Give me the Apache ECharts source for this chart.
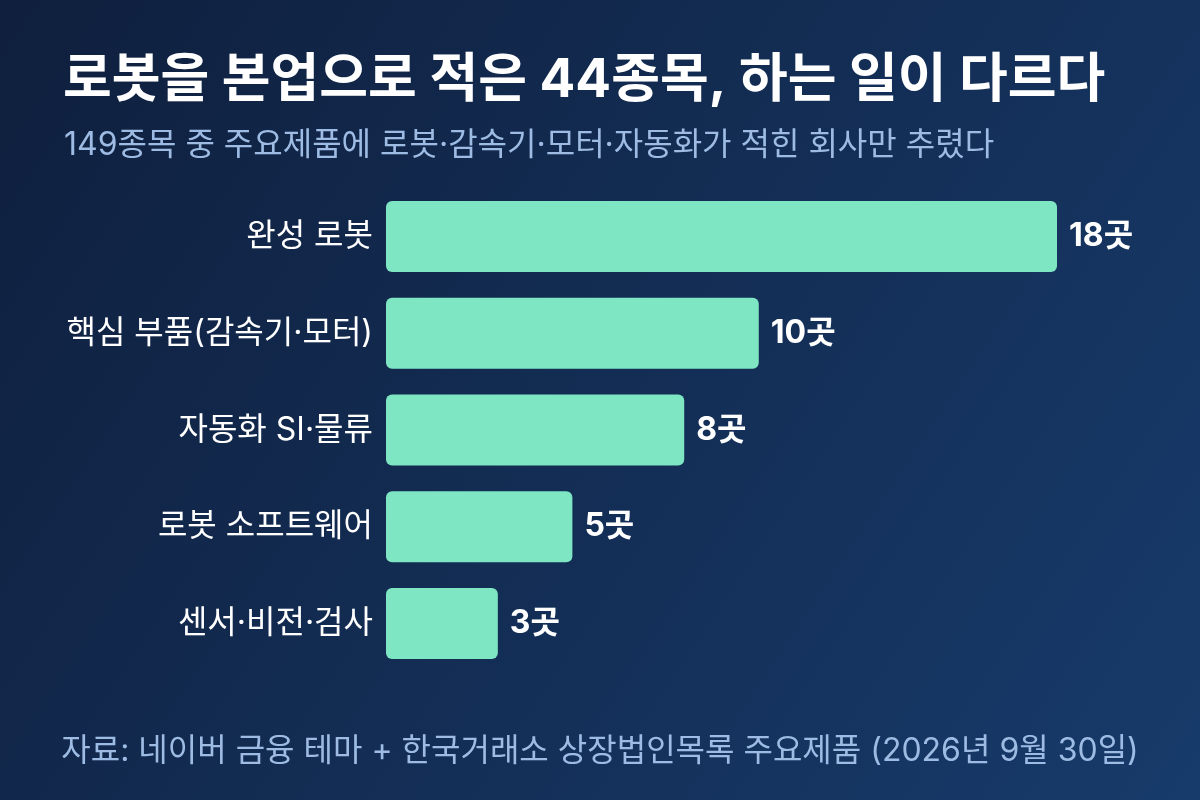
<!DOCTYPE html>
<html><head><meta charset="utf-8">
<script src="https://cdn.jsdelivr.net/npm/echarts@6/dist/echarts.min.js"></script>
<style>html,body{margin:0;padding:0;}#c{width:1200px;height:800px;}</style>
</head><body><div id="c"></div>
<script>
const categories = ['완성 로봇', '핵심 부품(감속기·모터)', '자동화 SI·물류', '로봇 소프트웨어', '센서·비전·검사'];
const counts = [18, 10, 8, 5, 3];
const unit = '곳';
const titleText = '로봇을 본업으로 적은 44종목, 하는 일이 다르다';
const subtitleText = '149종목 중 주요제품에 로봇·감속기·모터·자동화가 적힌 회사만 추렸다';
const sourceText = '자료: 네이버 금융 테마 + 한국거래소 상장법인목록 주요제품 (2026년 9월 30일)';

const FONT = 'Inter, "Noto Sans CJK KR", sans-serif';
const chart = echarts.init(document.getElementById('c'), null, {renderer: 'canvas'});
chart.setOption({
  backgroundColor: {type: 'linear', x: 0, y: 0, x2: 1, y2: 1,
    colorStops: [{offset: 0, color: '#0f1f3d'}, {offset: 1, color: '#173b6b'}]},
  title: [
    {text: titleText, left: 58, top: 50,
     textStyle: {color: '#ffffff', fontSize: 53, fontWeight: 'bold', fontFamily: FONT}},
    {text: subtitleText, left: 59, top: 124,
     textStyle: {color: '#9dbbe3', fontSize: 32, fontWeight: 'normal', fontFamily: FONT}},
    {text: sourceText, left: 'center', top: 730,
     textStyle: {color: '#9dbbe3', fontSize: 32, fontWeight: 'normal', fontFamily: FONT}}
  ],
  grid: {left: 386, right: 143, top: 188, bottom: 128, containLabel: false},
  xAxis: {type: 'value', min: 0, max: 18, show: false},
  yAxis: {type: 'category', data: categories, inverse: true,
    axisLine: {show: false}, axisTick: {show: false},
    axisLabel: {color: '#ffffff', fontSize: 32, fontFamily: FONT, margin: 13}},
  series: [{
    type: 'bar', data: counts, barWidth: 71,
    itemStyle: {color: '#7ee6c3', borderRadius: 6},
    label: {show: true, position: 'right', distance: 12, color: '#ffffff',
      fontSize: 32, fontWeight: 'bold', fontFamily: FONT,
      formatter: p => p.value + unit},
    silent: true
  }],
  animation: false
});
</script></body></html>
